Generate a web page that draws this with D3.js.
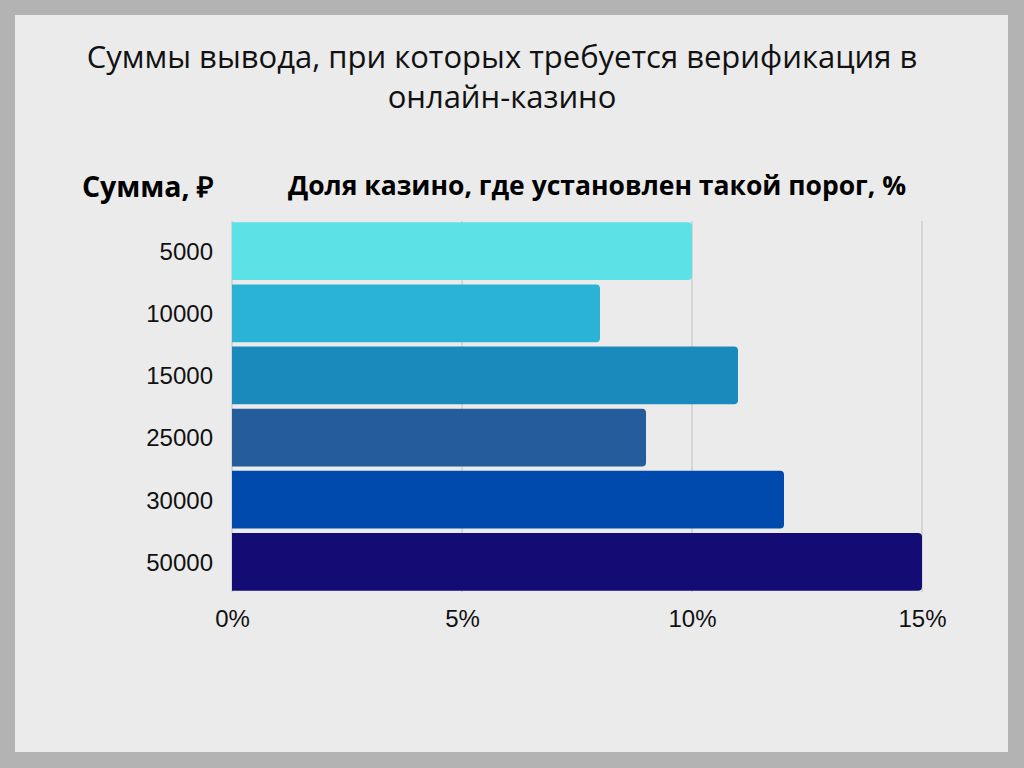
<!DOCTYPE html>
<html>
<head>
<meta charset="utf-8">
<script src="https://cdn.jsdelivr.net/npm/d3@7"></script>
<style>
  body { margin: 0; background: #b3b3b3; }
  svg { display: block; }
</style>
</head>
<body>
<svg id="svg1" width="1024" height="768"></svg>
<script>
var svg = d3.select('#svg1');

var amounts = ['5000', '10000', '15000', '25000', '30000', '50000'];
var shares = [10, 8, 11, 9, 12, 15];
var barColors = ['#5ce1e6', '#2bb3d6', '#1a8abd', '#255c9c', '#004aad', '#130c74'];
var xTicks = [0, 5, 10, 15];
var titleLines = ['Суммы вывода, при которых требуется верификация в', 'онлайн-казино'];

var padding = {t: 221, r: 102, b: 176, l: 232};
var plotW = 1024 - padding.l - padding.r;
var plotH = 768 - padding.t - padding.b;

// background panel
svg.append('rect')
    .attr('width', 1024).attr('height', 768)
    .style('fill', '#b3b3b3');
svg.append('rect')
    .attr('x', 15).attr('y', 15)
    .attr('width', 993).attr('height', 737)
    .style('fill', '#ebebeb');

svg.selectAll('.title')
    .data(titleLines)
    .enter()
    .append('text')
    .attr('class', 'title')
    .attr('x', 502)
    .attr('y', function(d, i) { return 68 + i * 40; })
    .attr('text-anchor', 'middle')
    .style('font-family', 'Open Sans')
    .style('font-size', '31px')
    .style('fill', '#111')
    .text(function(d) { return d; });

svg.append('text')
    .attr('x', 148).attr('y', 197)
    .attr('text-anchor', 'middle')
    .style('font-family', 'Open Sans')
    .style('font-weight', 'bold')
    .style('font-size', '28.5px')
    .text('Сумма, ₽');

svg.append('text')
    .attr('x', 597).attr('y', 195)
    .attr('text-anchor', 'middle')
    .style('font-family', 'Open Sans')
    .style('font-weight', 'bold')
    .style('font-size', '26.5px')
    .text('Доля казино, где установлен такой порог, %');

var xScale = d3.scaleLinear().domain([0, 15]).range([0, plotW]);
var yScale = d3.scaleBand().domain(amounts).range([0, plotH]).paddingInner(0.07).paddingOuter(0.02);

var chart = svg.append('g')
    .attr('transform', 'translate(' + [padding.l, padding.t] + ')');

// grid
chart.selectAll('.grid')
    .data(xTicks)
    .enter()
    .append('line')
    .attr('class', 'grid')
    .attr('x1', function(d) { return xScale(d); })
    .attr('x2', function(d) { return xScale(d); })
    .attr('y1', 0)
    .attr('y2', plotH)
    .style('stroke', '#cfcfcf')
    .style('stroke-width', 1.5);

chart.selectAll('.bar')
    .data(shares)
    .enter()
    .append('path')
    .attr('class', 'bar')
    .attr('d', function(d, i) {
        var x0 = 0, x1 = xScale(d), y0 = yScale(amounts[i]), h = yScale.bandwidth(), r = 4;
        return 'M' + x0 + ',' + y0 + 'H' + (x1 - r) + 'Q' + x1 + ',' + y0 + ' ' + x1 + ',' + (y0 + r) +
            'V' + (y0 + h - r) + 'Q' + x1 + ',' + (y0 + h) + ' ' + (x1 - r) + ',' + (y0 + h) + 'H' + x0 + 'Z';
    })
    .style('fill', function(d, i) { return barColors[i]; });

var xAxis = d3.axisBottom(xScale).tickValues(xTicks).tickSize(0).tickPadding(0)
    .tickFormat(function(d) { return d + '%'; });

chart.append('g')
    .attr('transform', 'translate(0,' + (plotH + 18) + ')')
    .call(xAxis)
    .call(function(g) { g.select('.domain').remove(); })
    .selectAll('text')
    .style('font-family', 'Liberation Sans')
    .style('font-size', '24px')
    .style('fill', '#111');

var yAxis = d3.axisLeft(yScale).tickSize(0).tickPadding(19);

chart.append('g')
    .call(yAxis)
    .call(function(g) { g.select('.domain').remove(); })
    .selectAll('text')
    .attr('dy', '0.37em')
    .style('font-family', 'Liberation Sans')
    .style('font-size', '24px')
    .style('fill', '#111');
</script>
</body>
</html>
